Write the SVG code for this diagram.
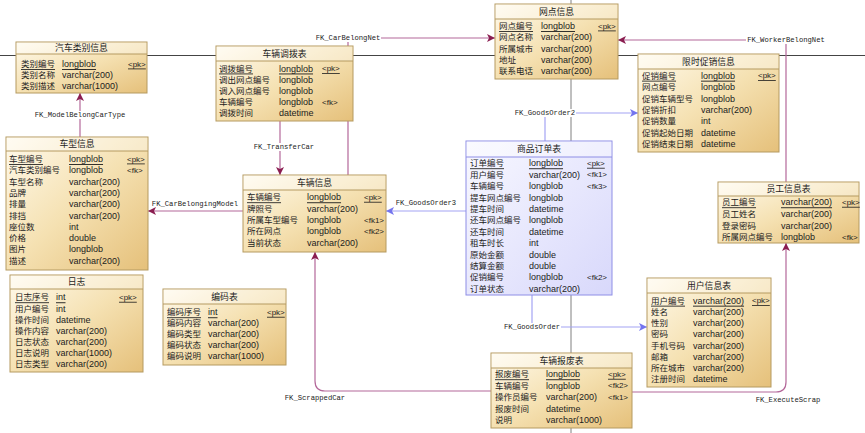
<svg xmlns="http://www.w3.org/2000/svg" width="865" height="433" viewBox="0 0 865 433">
<style>
.bx{fill:url(#gy);stroke:#b59a60;stroke-width:1}
.bo{fill:url(#gb);stroke:#8e8ee6;stroke-width:1}
.hd{fill:#ffffff;opacity:.35}
.sp{stroke:#b59a60;stroke-width:1}
.spo{stroke:#8e8ee6;stroke-width:1}
text{font-family:"Liberation Sans","Noto Sans CJK SC",sans-serif;font-size:9px;fill:#1c1c1c;dominant-baseline:central}
.n{font-size:8.5px}
.k{font-size:8px}
.tt{text-anchor:middle;font-size:8.8px}
.u{text-decoration:underline}
.fk{font-family:"Liberation Mono",monospace;font-size:7.2px;fill:#222;text-anchor:middle}
.lp{fill:none;stroke:#b4689a;stroke-width:1.2}
.lb{fill:none;stroke:#a4a4f4;stroke-width:1.2}
.bg{fill:#fff}
</style>
<defs>
<linearGradient id="gy" x1="0" y1="0" x2="1" y2="1">
<stop offset="0" stop-color="#fffaec"/><stop offset="0.5" stop-color="#f5e1b2"/><stop offset="1" stop-color="#e5c07a"/>
</linearGradient>
<linearGradient id="gb" x1="0" y1="0" x2="1" y2="1">
<stop offset="0" stop-color="#f8f8ff"/><stop offset="1" stop-color="#d8d8fb"/>
</linearGradient>
<marker id="ap" viewBox="0 0 10 10" refX="10" refY="5" markerWidth="8" markerHeight="8" orient="auto" markerUnits="userSpaceOnUse">
<path d="M0,0 L10,5 L0,10 L2.5,5 z" fill="#8a1d50"/>
</marker>
<marker id="ab" viewBox="0 0 10 10" refX="10" refY="5" markerWidth="8" markerHeight="8" orient="auto" markerUnits="userSpaceOnUse">
<path d="M0,0 L10,5 L0,10 L2.5,5 z" fill="#7474ee"/>
</marker>
</defs>
<rect width="865" height="433" fill="#fff"/>
<g id="background-lines">
<line x1="0" y1="55.5" x2="865" y2="55.5" stroke="#444" stroke-width="1"/>
<line x1="571" y1="0" x2="571" y2="433" stroke="#808080" stroke-width="1"/>
</g>
<g id="connectors">
<path class="lp" d="M80,137 V93" marker-end="url(#ap)"/>
<path class="lp" d="M280,121 V175" marker-end="url(#ap)"/>
<path class="lp" d="M348,175 V38 H495" marker-end="url(#ap)"/>
<path class="lp" d="M786,182 V40 H618" marker-end="url(#ap)"/>
<path class="lp" d="M243,211 H148" marker-end="url(#ap)"/>
<path class="lb" d="M466,211 H386" marker-end="url(#ab)"/>
<path class="lb" d="M545,141 V113 H638" marker-end="url(#ab)"/>
<path class="lb" d="M532,295 V327 H647" marker-end="url(#ab)"/>
<path class="lp" d="M491,391 H325 Q315,391 315,381 V252" marker-end="url(#ap)"/>
<path class="lp" d="M632,392 H776 Q786,392 786,382 V243" marker-end="url(#ap)"/>
<rect class="bg" x="34" y="111" width="93" height="8"/>
<text class="fk" x="80" y="115">FK_ModelBelongCarType</text>
<rect class="bg" x="252" y="143" width="64" height="8"/>
<text class="fk" x="284" y="147">FK_TransferCar</text>
<rect class="bg" x="315" y="34" width="66" height="8"/>
<text class="fk" x="348" y="38">FK_CarBelongNet</text>
<rect class="bg" x="746" y="36" width="80" height="8"/>
<text class="fk" x="786" y="40">FK_WorkerBelongNet</text>
<text class="fk" x="195" y="204">FK_CarBelongingModel</text>
<text class="fk" x="426" y="203">FK_GoodsOrder3</text>
<rect class="bg" x="514" y="109" width="62" height="8"/>
<text class="fk" x="545" y="113">FK_GoodsOrder2</text>
<rect class="bg" x="503" y="323" width="58" height="8"/>
<text class="fk" x="532" y="327">FK_GoodsOrder</text>
<text class="fk" x="315" y="398">FK_ScrappedCar</text>
<text class="fk" x="788" y="400">FK_ExecuteScrap</text>
</g>
<g id="t-qclbxx">
<rect class="bx" x="16" y="42" width="131" height="51"/>
<rect class="hd" x="16.5" y="42.5" width="130" height="11.5"/>
<line class="sp" x1="16" y1="54" x2="147" y2="54"/>
<text class="tt" x="81.5" y="48">汽车类别信息</text>
<text class="n u" x="21" y="64">类别编号</text><text class="u" x="62" y="64">longblob</text><text class="k u" x="128" y="64">&lt;pk&gt;</text>
<text class="n" x="21" y="75">类别名称</text><text x="62" y="75">varchar(200)</text>
<text class="n" x="21" y="86">类别描述</text><text x="62" y="86">varchar(1000)</text>
</g>
<g id="t-cldbb">
<rect class="bx" x="216" y="46" width="137" height="75"/>
<rect class="hd" x="216.5" y="46.5" width="136" height="14.5"/>
<line class="sp" x1="216" y1="61" x2="353" y2="61"/>
<text class="tt" x="284.5" y="53.5">车辆调拨表</text>
<text class="n u" x="219" y="68.5">调拨编号</text><text class="u" x="279" y="68.5">longblob</text><text class="k u" x="322" y="68.5">&lt;pk&gt;</text>
<text class="n" x="219" y="79.7">调出网点编号</text><text x="279" y="79.7">longblob</text>
<text class="n" x="219" y="91">调入网点编号</text><text x="279" y="91">longblob</text>
<text class="n" x="219" y="102.2">车辆编号</text><text x="279" y="102.2">longblob</text><text class="k" x="322" y="102.2">&lt;fk&gt;</text>
<text class="n" x="219" y="113.4">调拨时间</text><text x="279" y="113.4">datetime</text>
</g>
<g id="t-wdxx">
<rect class="bx" x="495" y="4" width="123" height="75"/>
<rect class="hd" x="495.5" y="4.5" width="122" height="14.5"/>
<line class="sp" x1="495" y1="19" x2="618" y2="19"/>
<text class="tt" x="556.5" y="11.5">网点信息</text>
<text class="n u" x="499" y="26">网点编号</text><text class="u" x="541" y="26">longblob</text><text class="k u" x="598" y="26">&lt;pk&gt;</text>
<text class="n" x="499" y="37.3">网点名称</text><text x="541" y="37.3">varchar(200)</text>
<text class="n" x="499" y="48.6">所属城市</text><text x="541" y="48.6">varchar(200)</text>
<text class="n" x="499" y="59.9">地址</text><text x="541" y="59.9">varchar(200)</text>
<text class="n" x="499" y="71.2">联系电话</text><text x="541" y="71.2">varchar(200)</text>
</g>
<g id="t-xscxxx">
<rect class="bx" x="638" y="54" width="141" height="98"/>
<rect class="hd" x="638.5" y="54.5" width="140" height="14.5"/>
<line class="sp" x1="638" y1="69" x2="779" y2="69"/>
<text class="tt" x="708.5" y="61.5">限时促销信息</text>
<text class="n u" x="642" y="75.7">促销编号</text><text class="u" x="701" y="75.7">longblob</text><text class="k u" x="758" y="75.7">&lt;pk&gt;</text>
<text class="n" x="642" y="87.1">网点编号</text><text x="701" y="87.1">longblob</text>
<text class="n" x="642" y="98.5">促销车辆型号</text><text x="701" y="98.5">longblob</text>
<text class="n" x="642" y="109.9">促销折扣</text><text x="701" y="109.9">varchar(200)</text>
<text class="n" x="642" y="121.3">促销数量</text><text x="701" y="121.3">int</text>
<text class="n" x="642" y="132.7">促销起始日期</text><text x="701" y="132.7">datetime</text>
<text class="n" x="642" y="144.1">促销结束日期</text><text x="701" y="144.1">datetime</text>
</g>
<g id="t-cxxx">
<rect class="bx" x="6" y="137" width="142" height="133"/>
<rect class="hd" x="6.5" y="137.5" width="141" height="13.5"/>
<line class="sp" x1="6" y1="151" x2="148" y2="151"/>
<text class="tt" x="77" y="144">车型信息</text>
<text class="n u" x="9" y="159">车型编号</text><text class="u" x="69" y="159">longblob</text><text class="k u" x="127" y="159">&lt;pk&gt;</text>
<text class="n" x="9" y="170.3">汽车类别编号</text><text x="69" y="170.3">longblob</text><text class="k" x="127" y="170.3">&lt;fk&gt;</text>
<text class="n" x="9" y="181.6">车型名称</text><text x="69" y="181.6">varchar(200)</text>
<text class="n" x="9" y="192.9">品牌</text><text x="69" y="192.9">varchar(200)</text>
<text class="n" x="9" y="204.2">排量</text><text x="69" y="204.2">varchar(200)</text>
<text class="n" x="9" y="215.5">排挡</text><text x="69" y="215.5">varchar(200)</text>
<text class="n" x="9" y="226.8">座位数</text><text x="69" y="226.8">int</text>
<text class="n" x="9" y="238.1">价格</text><text x="69" y="238.1">double</text>
<text class="n" x="9" y="249.4">图片</text><text x="69" y="249.4">longblob</text>
<text class="n" x="9" y="260.7">描述</text><text x="69" y="260.7">varchar(200)</text>
</g>
<g id="t-clxx">
<rect class="bx" x="243" y="175" width="143" height="77"/>
<rect class="hd" x="243.5" y="175.5" width="142" height="14.5"/>
<line class="sp" x1="243" y1="190" x2="386" y2="190"/>
<text class="tt" x="314.5" y="182.5">车辆信息</text>
<text class="n u" x="247" y="197.3">车辆编号</text><text class="u" x="307" y="197.3">longblob</text><text class="k u" x="364" y="197.3">&lt;pk&gt;</text>
<text class="n" x="247" y="208.6">牌照号</text><text x="307" y="208.6">varchar(200)</text>
<text class="n" x="247" y="220">所属车型编号</text><text x="307" y="220">longblob</text><text class="k" x="364" y="220">&lt;fk1&gt;</text>
<text class="n" x="247" y="231.3">所在网点</text><text x="307" y="231.3">longblob</text><text class="k" x="364" y="231.3">&lt;fk2&gt;</text>
<text class="n" x="247" y="242.7">当前状态</text><text x="307" y="242.7">varchar(200)</text>
</g>
<g id="t-spddb">
<rect class="bo" x="466" y="141" width="146" height="154"/>
<rect class="hd" x="466.5" y="141.5" width="145" height="15.5"/>
<line class="spo" x1="466" y1="157" x2="612" y2="157"/>
<text class="tt" x="539" y="149">商品订单表</text>
<text class="n u" x="470" y="163.3">订单编号</text><text class="u" x="529" y="163.3">longblob</text><text class="k u" x="587" y="163.3">&lt;pk&gt;</text>
<text class="n" x="470" y="174.7">用户编号</text><text x="529" y="174.7">varchar(200)</text><text class="k" x="587" y="174.7">&lt;fk1&gt;</text>
<text class="n" x="470" y="186.1">车辆编号</text><text x="529" y="186.1">longblob</text><text class="k" x="587" y="186.1">&lt;fk3&gt;</text>
<text class="n" x="470" y="197.5">提车网点编号</text><text x="529" y="197.5">longblob</text>
<text class="n" x="470" y="208.9">提车时间</text><text x="529" y="208.9">datetime</text>
<text class="n" x="470" y="220.3">还车网点编号</text><text x="529" y="220.3">longblob</text>
<text class="n" x="470" y="231.7">还车时间</text><text x="529" y="231.7">datetime</text>
<text class="n" x="470" y="243.1">租车时长</text><text x="529" y="243.1">int</text>
<text class="n" x="470" y="254.5">原始金额</text><text x="529" y="254.5">double</text>
<text class="n" x="470" y="265.9">结算金额</text><text x="529" y="265.9">double</text>
<text class="n" x="470" y="277.3">促销编号</text><text x="529" y="277.3">longblob</text><text class="k" x="587" y="277.3">&lt;fk2&gt;</text>
<text class="n" x="470" y="288.7">订单状态</text><text x="529" y="288.7">varchar(200)</text>
</g>
<g id="t-ygxxb">
<rect class="bx" x="718" y="182" width="141" height="61"/>
<rect class="hd" x="718.5" y="182.5" width="140" height="13.5"/>
<line class="sp" x1="718" y1="196" x2="859" y2="196"/>
<text class="tt" x="788.5" y="189">员工信息表</text>
<text class="n u" x="722" y="202.3">员工编号</text><text class="u" x="781" y="202.3">varchar(200)</text><text class="k u" x="842" y="202.3">&lt;pk&gt;</text>
<text class="n" x="722" y="214">员工姓名</text><text x="781" y="214">varchar(200)</text>
<text class="n" x="722" y="225.6">登录密码</text><text x="781" y="225.6">varchar(200)</text>
<text class="n" x="722" y="237.3">所属网点编号</text><text x="781" y="237.3">longblob</text><text class="k" x="842" y="237.3">&lt;fk&gt;</text>
</g>
<g id="t-rz">
<rect class="bx" x="10" y="275" width="133" height="97"/>
<rect class="hd" x="10.5" y="275.5" width="132" height="13.5"/>
<line class="sp" x1="10" y1="289" x2="143" y2="289"/>
<text class="tt" x="76.5" y="282">日志</text>
<text class="n u" x="15" y="297.3">日志序号</text><text class="u" x="56" y="297.3">int</text><text class="k u" x="119" y="297.3">&lt;pk&gt;</text>
<text class="n" x="15" y="308.5">用户编号</text><text x="56" y="308.5">int</text>
<text class="n" x="15" y="319.6">操作时间</text><text x="56" y="319.6">datetime</text>
<text class="n" x="15" y="330.8">操作内容</text><text x="56" y="330.8">varchar(200)</text>
<text class="n" x="15" y="342">日志状态</text><text x="56" y="342">varchar(200)</text>
<text class="n" x="15" y="353.2">日志说明</text><text x="56" y="353.2">varchar(1000)</text>
<text class="n" x="15" y="364.3">日志类型</text><text x="56" y="364.3">varchar(200)</text>
</g>
<g id="t-bmb">
<rect class="bx" x="163" y="289" width="123" height="76"/>
<rect class="hd" x="163.5" y="289.5" width="122" height="14.5"/>
<line class="sp" x1="163" y1="304" x2="286" y2="304"/>
<text class="tt" x="224.5" y="296.5">编码表</text>
<text class="n u" x="167" y="312.3">编码序号</text><text class="u" x="208" y="312.3">int</text><text class="k u" x="267" y="312.3">&lt;pk&gt;</text>
<text class="n" x="167" y="323.2">编码内容</text><text x="208" y="323.2">varchar(200)</text>
<text class="n" x="167" y="334.1">编码类型</text><text x="208" y="334.1">varchar(200)</text>
<text class="n" x="167" y="345">编码状态</text><text x="208" y="345">varchar(200)</text>
<text class="n" x="167" y="356">编码说明</text><text x="208" y="356">varchar(1000)</text>
</g>
<g id="t-yhxxb">
<rect class="bx" x="647" y="278" width="124" height="109"/>
<rect class="hd" x="647.5" y="278.5" width="123" height="14.5"/>
<line class="sp" x1="647" y1="293" x2="771" y2="293"/>
<text class="tt" x="709" y="285.5">用户信息表</text>
<text class="n u" x="651" y="300.7">用户编号</text><text class="u" x="693" y="300.7">varchar(200)</text><text class="k u" x="752" y="300.7">&lt;pk&gt;</text>
<text class="n" x="651" y="311.9">姓名</text><text x="693" y="311.9">varchar(200)</text>
<text class="n" x="651" y="323.1">性别</text><text x="693" y="323.1">varchar(200)</text>
<text class="n" x="651" y="334.3">密码</text><text x="693" y="334.3">varchar(200)</text>
<text class="n" x="651" y="345.5">手机号码</text><text x="693" y="345.5">varchar(200)</text>
<text class="n" x="651" y="356.7">邮箱</text><text x="693" y="356.7">varchar(200)</text>
<text class="n" x="651" y="367.9">所在城市</text><text x="693" y="367.9">varchar(200)</text>
<text class="n" x="651" y="379">注册时间</text><text x="693" y="379">datetime</text>
</g>
<g id="t-clbfb">
<rect class="bx" x="491" y="353" width="141" height="75"/>
<rect class="hd" x="491.5" y="353.5" width="140" height="14.5"/>
<line class="sp" x1="491" y1="368" x2="632" y2="368"/>
<text class="tt" x="561.5" y="360.5">车辆报废表</text>
<text class="n u" x="495" y="374.3">报废编号</text><text class="u" x="546" y="374.3">longblob</text><text class="k u" x="608" y="374.3">&lt;pk&gt;</text>
<text class="n" x="495" y="385.7">车辆编号</text><text x="546" y="385.7">longblob</text><text class="k" x="608" y="385.7">&lt;fk2&gt;</text>
<text class="n" x="495" y="397.1">操作员编号</text><text x="546" y="397.1">varchar(200)</text><text class="k" x="608" y="397.1">&lt;fk1&gt;</text>
<text class="n" x="495" y="408.5">报废时间</text><text x="546" y="408.5">datetime</text>
<text class="n" x="495" y="419.9">说明</text><text x="546" y="419.9">varchar(1000)</text>
</g>
</svg>
